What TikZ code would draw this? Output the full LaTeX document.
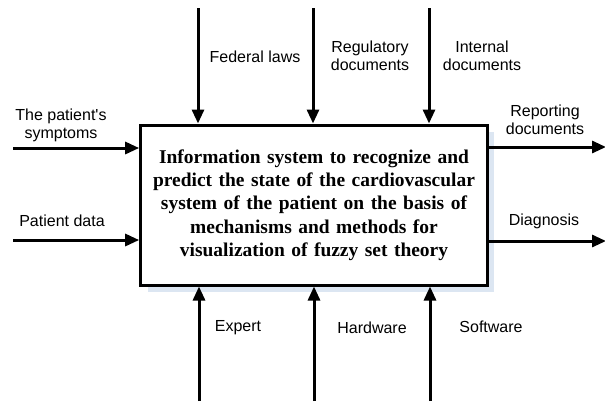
\documentclass[tikz,border=0pt]{standalone}
\usepackage{fontspec}
\setmainfont{Liberation Serif}
\setsansfont{Liberation Sans}
\usetikzlibrary{arrows.meta,shadows}
\definecolor{shadeblue}{HTML}{DCE6F2}
\tikzset{
  flow/.style={line width=2.25pt,-{Triangle[length=10.5pt,width=9pt]}},
  lbl/.style={font=\sffamily\fontsize{12}{13.5}\selectfont,align=center,inner sep=0pt},
  sysbox/.style={draw,line width=2.25pt,fill=white,minimum width=260pt,minimum height=120pt,
    align=center,text width=245pt,font=\bfseries\fontsize{14.6}{17.5}\selectfont,
    drop shadow={shadow xshift=5.25pt,shadow yshift=-5.25pt,fill=shadeblue,opacity=1}}
}
\begin{document}
\begin{tikzpicture}[x=0.75pt,y=-0.75pt]
				%%%%% START %%%%%
				\def\xa{198}
				\def\xb{313}
				\def\xc{429}
				\def\yin{148}
				\def\yout{240}
				\useasboundingbox (0,0) rectangle (605,401);

				% main function block
				\node[sysbox] (sys) at (314,205)
				  {Information system to recognize and\\predict the state of the cardiovascular\\system of the patient on the basis of\\mechanisms and methods for\\visualization of fuzzy set theory};

				% free ends of the arrows
				\coordinate (ctlA) at (\xa,8);
				\coordinate (ctlB) at (\xb,8);
				\coordinate (ctlC) at (\xc,8);
				\coordinate (mecA) at (\xa+1,401);
				\coordinate (mecB) at (\xb+1,401);
				\coordinate (mecC) at (\xc+1,401);
				\coordinate (inA) at (13,\yin);
				\coordinate (inB) at (13,\yout);
				\coordinate (outA) at (606,\yin-1);
				\coordinate (outB) at (606,\yout+1);

				% controls
				\draw[flow] (ctlA) -- (ctlA |- sys.north);
				\draw[flow] (ctlB) -- (ctlB |- sys.north);
				\draw[flow] (ctlC) -- (ctlC |- sys.north);
				\node[lbl] (fed) at (255,57) {Federal laws};
				\node[lbl] (reg) at (370,56) {Regulatory\\documents};
				\node[lbl] (int) at (482,56) {Internal\\documents};

				% mechanisms
				\draw[flow] (mecA) -- (mecA |- sys.south);
				\draw[flow] (mecB) -- (mecB |- sys.south);
				\draw[flow] (mecC) -- (mecC |- sys.south);
				\node[lbl] (exp) at (238,328) {Expert};
				\node[lbl] (hw) at (372,328) {Hardware};
				\node[lbl] (sw) at (491,327) {Software};

				% inputs
				\draw[flow] (inA) -- (inA -| sys.west);
				\draw[flow] (inB) -- (inB -| sys.west);
				\node[lbl] (sym) at (61,125) {The patient\textquotesingle s\\symptoms};
				\node[lbl] (pdat) at (62,221) {Patient data};

				% outputs
				\draw[flow] (outA -| sys.east) -- (outA);
				\draw[flow] (outB -| sys.east) -- (outB);
				\node[lbl] (rep) at (545,120) {Reporting\\documents};
				\node[lbl] (diag) at (544,221) {Diagnosis};
				%%%%% END %%%%%
\end{tikzpicture}
\end{document}
